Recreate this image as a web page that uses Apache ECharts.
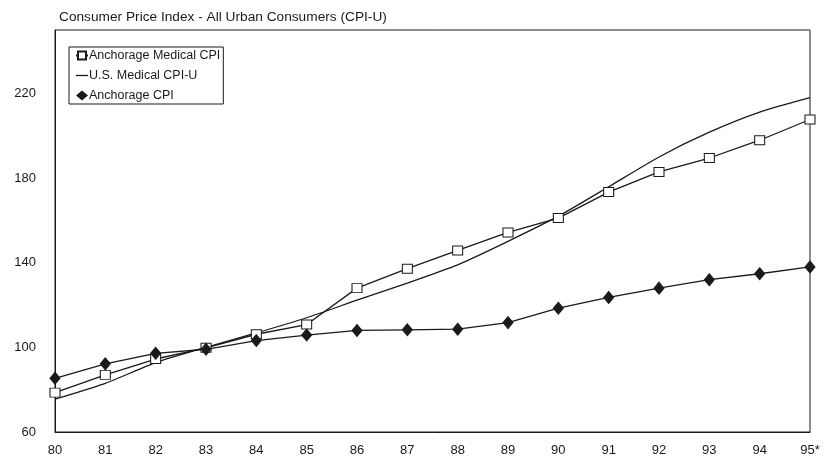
<!DOCTYPE html>
<html>
<head>
<meta charset="utf-8">
<script src="https://cdn.jsdelivr.net/npm/echarts@6/dist/echarts.min.js"></script>
<style>
html,body{margin:0;padding:0;background:#fff;}
#chart{width:832px;height:463px;}
</style>
</head>
<body>
<div id="chart"></div>
<script>
var years = ['80','81','82','83','84','85','86','87','88','89','90','91','92','93','94','95*'];
var anchorageMedical = [78.6, 87.0, 94.5, 99.8, 106.2, 110.8, 128.0, 137.2, 145.8, 154.3, 161.1, 173.4, 182.9, 189.5, 197.9, 207.7];
var usMedical = [75.5, 83.0, 92.8, 100.0, 106.8, 114.0, 122.3, 130.4, 139.0, 150.1, 162.0, 175.9, 190.0, 201.7, 211.2, 218.0];
var anchorageCPI = [85.4, 92.2, 97.2, 99.1, 103.2, 105.8, 108.0, 108.3, 108.6, 111.7, 118.5, 123.6, 128.0, 132.0, 134.8, 138.0];
var yTicks = {min: 60, max: 250, interval: 40};

var chart = echarts.init(document.getElementById('chart'));
var ink = '#1a1a1a';
var font = 'Liberation Sans, Arial, sans-serif';
chart.setOption({
  animation: false,
  backgroundColor: '#fff',
  textStyle: {fontFamily: font, color: ink},
  title: {
    text: 'Consumer Price Index - All Urban Consumers (CPI-U)',
    left: 54, top: 5,
    textStyle: {fontSize: 13.7, fontWeight: 'normal', color: ink, fontFamily: font}
  },
  legend: {
    orient: 'vertical',
    left: 69, top: 47,
    borderColor: ink, borderWidth: 1,
    padding: [2, 3, 2, 6],
    itemGap: 7,
    itemWidth: 12, itemHeight: 10,
    textStyle: {fontSize: 12.5, color: ink, padding: [0, 0, 0, -4], fontFamily: font},
    data: [
      {name: 'Anchorage Medical CPI'},
      {name: 'U.S. Medical CPI-U', icon: 'path://M0,0L12,0L12,1.3L0,1.3Z'},
      {name: 'Anchorage CPI', icon: 'diamond'}
    ]
  },
  grid: {left: 55, right: 22, top: 30, bottom: 31, show: true, borderColor: ink, borderWidth: 1, containLabel: false},
  xAxis: {
    type: 'category',
    data: years,
    boundaryGap: false,
    axisLine: {lineStyle: {color: ink, width: 1}},
    axisTick: {show: false},
    axisLabel: {fontSize: 13, color: ink, margin: 12, fontFamily: font}
  },
  yAxis: {
    type: 'value',
    min: yTicks.min, max: yTicks.max, interval: yTicks.interval,
    axisLine: {show: true, lineStyle: {color: ink, width: 1}},
    axisTick: {show: false},
    splitLine: {show: false},
    axisLabel: {fontSize: 13, color: ink, margin: 19, showMaxLabel: false, fontFamily: font}
  },
  series: [
    {
      name: 'Anchorage Medical CPI', type: 'line', data: anchorageMedical,
      symbol: 'rect', symbolSize: [10, 9], showAllSymbol: true,
      itemStyle: {color: '#fff', borderColor: ink, borderWidth: 1},
      lineStyle: {color: ink, width: 1.3}
    },
    {
      name: 'U.S. Medical CPI-U', type: 'line', data: usMedical,
      symbol: 'none', smooth: 0.2,
      itemStyle: {color: ink},
      lineStyle: {color: ink, width: 1.3}
    },
    {
      name: 'Anchorage CPI', type: 'line', data: anchorageCPI,
      symbol: 'diamond', symbolSize: [10, 12], showAllSymbol: true,
      itemStyle: {color: ink, borderColor: ink},
      lineStyle: {color: ink, width: 1.3}
    }
  ]
});
</script>
</body>
</html>
